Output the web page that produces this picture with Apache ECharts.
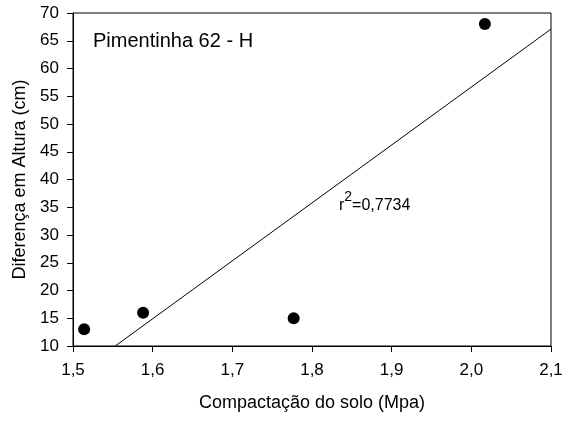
<!DOCTYPE html>
<html><head><meta charset="utf-8">
<script src="https://cdn.jsdelivr.net/npm/echarts@6/dist/echarts.min.js"></script>
<style>html,body{margin:0;padding:0;background:#fff}#c{width:569px;height:421px}</style>
</head><body><div id="c"></div>
<script>
const pointsX = [1.514, 1.588, 1.777, 2.017];
const pointsY = [13, 16, 15, 68];
const fitX = [1.553, 2.1];
const fitY = [10, 67.1];
const titleText = 'Pimentinha 62 - H';
const r2Text = '0,7734';
const xName = 'Compactação do solo (Mpa)';
const yName = 'Diferença em Altura (cm)';

const chart = echarts.init(document.getElementById('c'));
const font = 'Liberation Sans, Arial, sans-serif';
chart.setOption({
  animation: false,
  grid: {left: 73, right: 18, top: 13, bottom: 75, show: true, borderColor: '#000', borderWidth: 1},
  xAxis: {
    type: 'value', min: 1.5, max: 2.1, interval: 0.1,
    name: xName, nameLocation: 'middle', nameGap: 48,
    nameTextStyle: {fontFamily: font, fontSize: 18, color: '#000'},
    axisLine: {lineStyle: {color: '#000'}},
    axisTick: {show: true, length: 6, lineStyle: {color: '#000'}},
    splitLine: {show: false},
    axisLabel: {fontFamily: font, fontSize: 17, color: '#000', margin: 16,
      formatter: v => v.toFixed(1).replace('.', ',')}
  },
  yAxis: {
    type: 'value', min: 10, max: 70, interval: 5,
    name: yName, nameLocation: 'middle', nameGap: 42,
    nameTextStyle: {fontFamily: font, fontSize: 18, color: '#000'},
    axisLine: {lineStyle: {color: '#000'}},
    axisTick: {show: true, length: 6, lineStyle: {color: '#000'}},
    splitLine: {show: false},
    axisLabel: {fontFamily: font, fontSize: 17, color: '#000', margin: 14}
  },
  graphic: [
    {type: 'text', left: 93, top: 31, style: {text: titleText, font: '20px ' + font, fill: '#000'}},
    {type: 'text', left: 339, top: 190, style: {
      text: '{a|r}{s|2}{a|=' + r2Text + '}',
      rich: {
        a: {fontFamily: font, fontSize: 16, color: '#000', verticalAlign: 'bottom', lineHeight: 24},
        s: {fontFamily: font, fontSize: 14, color: '#000', verticalAlign: 'top', lineHeight: 16}
      }
    }}
  ],
  series: [
    {type: 'line', data: fitX.map((x, i) => [x, fitY[i]]), symbol: 'none',
     lineStyle: {color: '#000', width: 1}, z: 2},
    {type: 'scatter', data: pointsX.map((x, i) => [x, pointsY[i]]), symbolSize: 12,
     itemStyle: {color: '#000', opacity: 1}, z: 3}
  ]
});
</script></body></html>
